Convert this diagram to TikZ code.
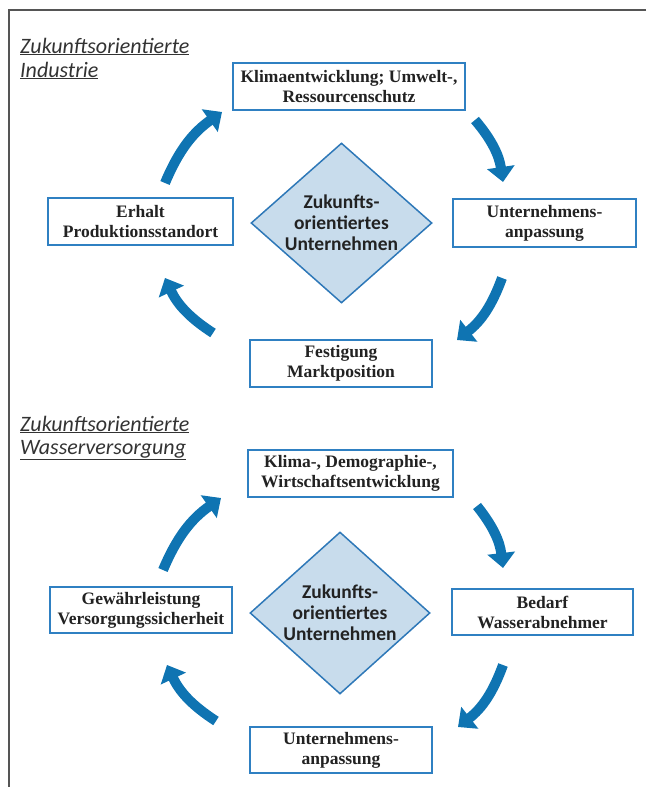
\documentclass[tikz,border=0pt]{standalone}
\usepackage{fontspec}
\setmainfont{Liberation Serif}
\newfontfamily\carlito{Carlito}
\usetikzlibrary{shapes.geometric,arrows.meta}
\definecolor{arrowblue}{HTML}{0F74B2}
\definecolor{boxblue}{HTML}{2F80C2}
\definecolor{diafill}{HTML}{C8DCEC}
\definecolor{diaedge}{HTML}{2E78B8}
\definecolor{framegray}{HTML}{555555}
\definecolor{txt}{HTML}{222222}
\definecolor{titlegray}{HTML}{333333}
\tikzset{
  stepbox/.style={draw=boxblue, line width=2pt, fill=white, align=center, inner sep=0pt,
    text=txt, font=\bfseries\fontsize{17.5}{20}\selectfont},
  centre/.style={diamond, draw=diaedge, line width=1.5pt, fill=diafill, inner sep=-8pt,
    align=center, text=txt, font=\carlito\bfseries\fontsize{19.5}{21}\selectfont},
  cyclearrow/.style={draw=arrowblue, line width=10pt,
    -{Triangle[length=15pt,width=27pt]}, bend left=16},
  heading/.style={anchor=base west, inner sep=0pt, text=titlegray,
    font=\carlito\itshape\fontsize{22}{24}\selectfont}
}
\begin{document}
\begin{tikzpicture}[x=1pt, y=-1pt]
\useasboundingbox (0,0) rectangle (646,787);
% frame
\coordinate (fa) at (646,10);
\coordinate (fb) at (9,10);
\coordinate (fc) at (9,787);
\draw[framegray, line width=1.5pt] (fa) -- (fb) -- (fc);

% ---------- upper cycle ----------
\node[heading] (t1a) at (20,53) {\underline{Zukunftsorientierte}};
\node[heading] (t1b) at (20,77) {\underline{Industrie}};

\node[stepbox, minimum width=232pt, minimum height=47pt] (k1) at (349,86.5)
  {Klimaentwicklung; Umwelt-,\\Ressourcenschutz};
\node[stepbox, minimum width=183pt, minimum height=48pt] (u1) at (544.5,223)
  {Unternehmens-\\anpassung};
\node[stepbox, minimum width=185pt, minimum height=47pt] (e1) at (140.5,221.5)
  {Erhalt\\Produktionsstandort};
\node[stepbox, minimum width=182pt, minimum height=47pt] (f1) at (341,363.5)
  {Festigung\\Marktposition};
\node[centre, minimum width=181pt, minimum height=160pt] (d1) at (341.5,223)
  {Zukunfts-\\orientiertes\\Unternehmen};

\coordinate (a1s) at (165,183); \coordinate (a1e) at (222,112);
\coordinate (a2s) at (475,120); \coordinate (a2e) at (503,182);
\coordinate (a3s) at (502,278); \coordinate (a3e) at (457,340);
\coordinate (a4s) at (213,333); \coordinate (a4e) at (165,278);
\draw[cyclearrow] (a1s) to (a1e);
\draw[cyclearrow] (a2s) to (a2e);
\draw[cyclearrow] (a3s) to (a3e);
\draw[cyclearrow] (a4s) to (a4e);

% ---------- lower cycle ----------
\node[heading] (t2a) at (20,431) {\underline{Zukunftsorientierte}};
\node[heading] (t2b) at (20,454) {\underline{Wasserversorgung}};

\node[stepbox, minimum width=205pt, minimum height=47pt] (k2) at (350.5,473.5)
  {Klima-, Demographie-,\\Wirtschaftsentwicklung};
\node[stepbox, minimum width=181pt, minimum height=46pt] (b2) at (542.5,612)
  {Bedarf\\Wasserabnehmer};
\node[stepbox, minimum width=182pt, minimum height=46pt] (g2) at (141,610)
  {Gewährleistung\\Versorgungssicherheit};
\node[stepbox, minimum width=182pt, minimum height=46pt] (u2) at (341,750)
  {Unternehmens-\\anpassung};
\node[centre, minimum width=180pt, minimum height=162pt] (d2) at (340,613)
  {Zukunfts-\\orientiertes\\Unternehmen};

\coordinate (b1s) at (163,570); \coordinate (b1e) at (221,498);
\coordinate (b2s) at (477,506); \coordinate (b2e) at (503,568);
\coordinate (b3s) at (503,665); \coordinate (b3e) at (458,727);
\coordinate (b4s) at (216,721); \coordinate (b4e) at (167,665);
\draw[cyclearrow] (b1s) to (b1e);
\draw[cyclearrow] (b2s) to (b2e);
\draw[cyclearrow] (b3s) to (b3e);
\draw[cyclearrow] (b4s) to (b4e);
\end{tikzpicture}
\end{document}
